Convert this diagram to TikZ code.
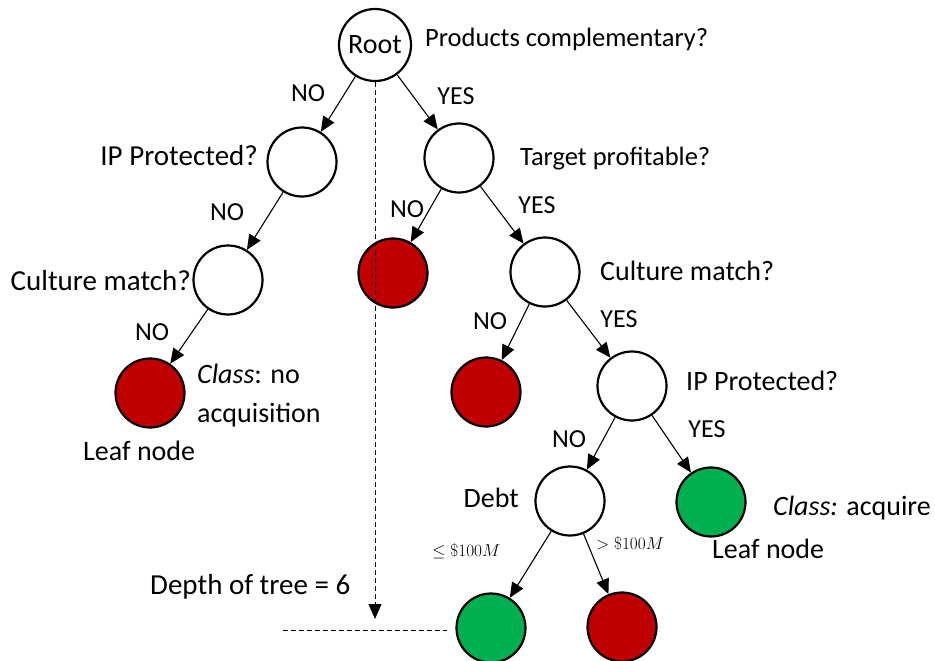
\documentclass[tikz,border=0pt]{standalone}
\usepackage{fontspec}
\setmainfont{Carlito}
\usetikzlibrary{arrows.meta}
\definecolor{nored}{RGB}{192,0,0}
\definecolor{yesgreen}{RGB}{0,176,80}

\begin{document}
\begin{tikzpicture}[>={Triangle[length=15pt,width=13pt]}, x=1pt, y=-1pt,
  dnode/.style={circle, draw, line width=2.2pt, minimum size=69pt, inner sep=0pt, fill=white},
  rleaf/.style={dnode, fill=nored},
  gleaf/.style={dnode, fill=yesgreen},
  txt/.style={inner sep=0pt, font=\fontsize{28}{33}\selectfont},
  bigtxt/.style={txt, font=\fontsize{29}{34}\selectfont},
  smtxt/.style={txt, font=\fontsize{26.5}{31}\selectfont},
  lbl/.style={inner sep=0pt, anchor=base, font=\fontsize{26}{30}\selectfont},
  mlbl/.style={inner sep=0pt, anchor=base west, font=\fontsize{19}{22}\selectfont}]
\useasboundingbox (0,0) rectangle (935,661);

\node (root) at (375,45)[dnode, minimum size=72pt, font=\fontsize{28}{33}\selectfont]{Root};
\node (ipl) at (302,162)[dnode]{};
\node (tgt) at (459,158)[dnode]{};
\node (cml) at (228,280)[dnode]{};
\node (rd1) at (393,273)[rleaf]{};
\node (cmr) at (545,272)[dnode]{};
\node (lfl) at (150,393)[rleaf]{};
\node (rd2) at (486,392)[rleaf]{};
\node (ipr) at (632,386)[dnode]{};
\node (debt) at (570,501)[dnode]{};
\node (lfg) at (711,502)[gleaf]{};
\node (bg) at (491,628)[gleaf]{};
\node (br) at (622,627)[rleaf]{};

\foreach \a/\b in {root/ipl, root/tgt, ipl/cml, tgt/rd1, tgt/cmr, cml/lfl,
  cmr/rd2, cmr/ipr, ipr/debt, ipr/lfg, debt/bg, debt/br}
{
    \draw[->, line width=1.1pt] (\a)--(\b);
}

\coordinate (depthend) at (375,619);
\coordinate (lvl) at (283,630);
\draw[->, dash pattern=on 5pt off 3pt, line width=1pt] (root)--(depthend);
\draw[dash pattern=on 5pt off 3pt, line width=1pt, shorten >=8pt] (lvl)--(lvl -| bg.west);

\node (prodq) at (425,47)[smtxt, anchor=base west]{Products complementary?};
\node (iplq) at (258,165)[bigtxt, anchor=base east]{IP Protected?};
\node (tgtq) at (520,165)[smtxt, anchor=base west]{Target profitable?};
\node (cmlq) at (191,290)[bigtxt, anchor=base east]{Culture match?};
\node (cmrq) at (600,280)[txt, anchor=base west]{Culture match?};
\node (iprq) at (686,390)[txt, anchor=base west]{IP Protected?};
\node (debtq) at (519,507)[txt, anchor=base east]{Debt};
\node (clsno) at (197,383)[txt, anchor=base west]{\textit{Class}: no};
\node (clsno2) at (197,422)[txt, anchor=base west]{acquisition};
\node (leafl) at (83,460)[txt, anchor=base west]{Leaf node};
\node (clsyes) at (773,515)[txt, anchor=base west]{\textit{Class:} acquire};
\node (leafr) at (712,558)[txt, anchor=base west]{Leaf node};
\node (depth) at (150,594)[bigtxt, anchor=base west]{Depth of tree = 6};

\node (no1) at (308,102)[lbl]{NO};
\node (yes1) at (456,105)[lbl]{YES};
\node (no2) at (227,220)[lbl]{NO};
\node (no3) at (407,217)[lbl]{NO};
\node (yes2) at (537,213)[lbl]{YES};
\node (no4) at (152,340)[lbl]{NO};
\node (no5) at (490,329)[lbl]{NO};
\node (yes3) at (619,327)[lbl]{YES};
\node (no6) at (569,447)[lbl]{NO};
\node (yes4) at (707,437)[lbl]{YES};
\node (lowdebt) at (432,556)[mlbl]{$\leq \$100M$};
\node (highdebt) at (596,549)[mlbl]{$> \$100M$};

\end{tikzpicture}
\end{document}
